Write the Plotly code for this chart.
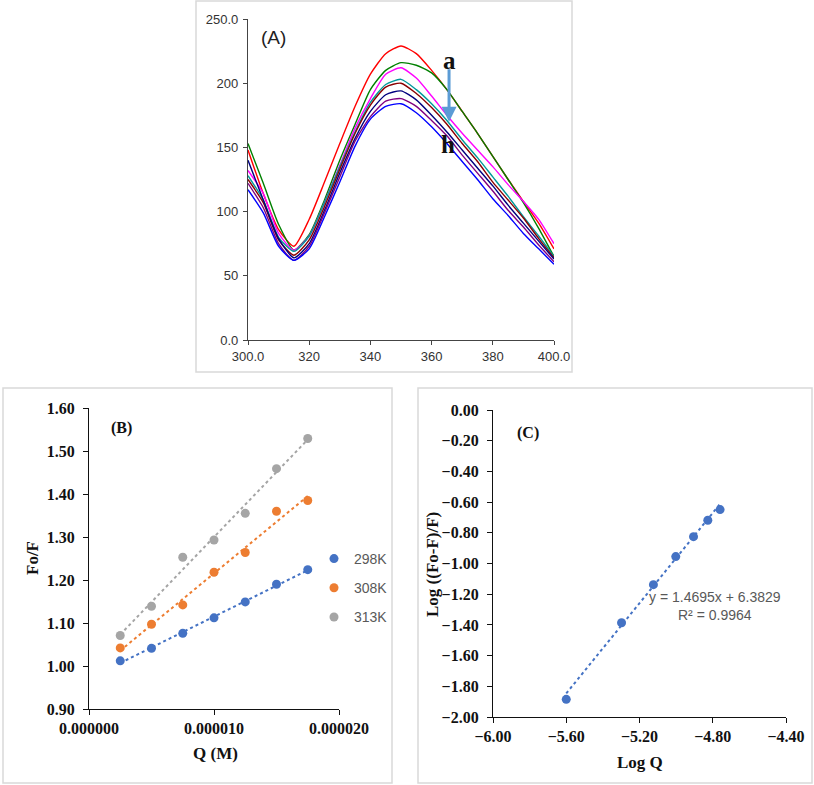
import numpy as np
import plotly.graph_objects as go

W, H = 814, 785
def px(x): return x / W
def py(y): return 1 - y / H

# ---------------- Panel A data ----------------
wavelength = [300, 305, 310, 315, 320, 325, 330, 335, 340, 345, 350, 355, 360, 365, 370, 375, 380, 385, 390, 395, 400]
curve_red     = [148, 114, 86, 73, 94, 123, 153, 182, 207, 223, 229, 223, 210, 195, 178, 161, 143, 125, 108, 91, 71]
curve_green   = [153, 122, 90, 70, 82, 109, 140, 168, 195, 210, 216, 214, 208, 195, 178, 161, 143, 125, 107, 87, 65]
curve_magenta = [132, 114, 83, 70, 81, 107, 136, 165, 188, 207, 212, 204, 190, 175, 161, 148, 135, 121, 108, 94, 75]
curve_teal    = [128, 109, 80, 69, 81, 107, 135, 162, 185, 199, 203, 195, 184, 171, 156, 142, 127, 112, 96, 81, 65]
curve_brown   = [125, 107, 78, 66, 78, 104, 133, 161, 183, 197, 200, 192, 181, 168, 153, 139, 123, 109, 95, 79, 64]
curve_navy    = [140, 109, 79, 64, 75, 101, 130, 157, 178, 191, 194, 187, 175, 162, 148, 134, 120, 105, 91, 77, 63]
curve_purple  = [122, 103, 75, 62, 73, 99, 127, 155, 174, 186, 188, 182, 171, 159, 144, 130, 116, 101, 88, 74, 61]
curve_blue    = [117, 99, 73, 62, 71, 96, 123, 151, 172, 182, 184, 177, 166, 153, 139, 125, 110, 97, 83, 71, 59]
curves_A = [curve_red, curve_green, curve_magenta, curve_teal, curve_brown, curve_navy, curve_purple, curve_blue]
colors_A = ["#FF0000", "#008000", "#FF00FF", "#009A9A", "#8B0000", "#00007F", "#800080", "#0000FF"]
xticks_A = [300, 320, 340, 360, 380, 400]
xtext_A = ["300.0", "320", "340", "360", "380", "400.0"]
yticks_A = [0, 50, 100, 150, 200, 250]
ytext_A = ["0.0", "50", "100", "150", "200", "250.0"]

# ---------------- Panel B data ----------------
Q = [2.5e-6, 5.0e-6, 7.5e-6, 1.0e-5, 1.25e-5, 1.5e-5, 1.75e-5]
F_298 = [1.012, 1.041, 1.076, 1.112, 1.149, 1.190, 1.224]
F_308 = [1.042, 1.097, 1.142, 1.218, 1.264, 1.360, 1.385]
F_313 = [1.071, 1.139, 1.253, 1.293, 1.355, 1.459, 1.529]
series_B = [("298K", F_298, "#4472C4"), ("308K", F_308, "#ED7D31"), ("313K", F_313, "#A5A5A5")]
xticks_B = [0, 1e-5, 2e-5]
xtext_B = ["0.000000", "0.000010", "0.000020"]

# ---------------- Panel C data ----------------
logQ = [-5.600, -5.298, -5.124, -5.002, -4.905, -4.827, -4.760]
logF = [-1.885, -1.386, -1.138, -0.955, -0.825, -0.718, -0.649]
slope_C, intercept_C, r2_C = 1.4695, 6.3829, 0.9964

fig = go.Figure()

# Panel A curves
for ys, c in zip(curves_A, colors_A):
    fig.add_trace(go.Scatter(x=wavelength, y=ys, mode="lines", line=dict(color=c, width=1.4, shape="spline", smoothing=0.6),
                             xaxis="x", yaxis="y", showlegend=False, hoverinfo="skip"))

# Panel B
for name, ys, c in series_B:
    fit = np.polyfit(Q, ys, 1)
    xs = np.array([Q[0], Q[-1]])
    fig.add_trace(go.Scatter(x=xs, y=np.polyval(fit, xs), mode="lines", line=dict(color=c, width=2, dash="dot"),
                             xaxis="x2", yaxis="y2", showlegend=False, hoverinfo="skip"))
for name, ys, c in series_B:
    fig.add_trace(go.Scatter(x=Q, y=ys, mode="markers", marker=dict(color=c, size=9), name=name,
                             legendgroup=name, xaxis="x2", yaxis="y2", showlegend=True))

# Panel C
xs_c = np.array([logQ[0], logQ[-1]])
fig.add_trace(go.Scatter(x=xs_c, y=slope_C * xs_c + intercept_C, mode="lines",
                         line=dict(color="#4472C4", width=2, dash="dot"),
                         xaxis="x3", yaxis="y3", showlegend=False, hoverinfo="skip"))
fig.add_trace(go.Scatter(x=logQ, y=logF, mode="markers", marker=dict(color="#4472C4", size=9),
                         xaxis="x3", yaxis="y3", showlegend=False))

sans = "Liberation Sans"
serif = "Liberation Serif"
axA = dict(showgrid=False, zeroline=False, showline=True, linecolor="#444", linewidth=1.2, automargin=False,
           ticks="outside", ticklen=4, tickcolor="#444", tickfont=dict(family=sans, size=13, color="#333"))
axS = dict(showgrid=False, zeroline=False, showline=True, linecolor="#111", linewidth=1.3, automargin=False,
           ticks="outside", ticklen=5, tickcolor="#111",
           tickfont=dict(family=serif, size=16, color="#111", weight="bold"))

fig.update_layout(
    width=W, height=H, margin=dict(l=0, r=0, t=0, b=0, autoexpand=False),
    paper_bgcolor="white", plot_bgcolor="white",
    xaxis=dict(axA, domain=[px(248), px(554)], range=[300, 400], tickvals=xticks_A, ticktext=xtext_A, anchor="y"),
    yaxis=dict(axA, domain=[py(340), py(19)], range=[0, 250], tickvals=yticks_A, ticktext=ytext_A, anchor="x",
               ticklabelstandoff=2),
    xaxis2=dict(axS, domain=[px(89), px(339)], range=[0, 2e-5], tickvals=xticks_B, ticktext=xtext_B, anchor="y2"),
    yaxis2=dict(axS, domain=[py(709), py(408)], range=[0.9, 1.6], dtick=0.1, tickformat=".2f", anchor="x2",
                ticklabelstandoff=5),
    xaxis3=dict(axS, domain=[px(493), px(786)], range=[-6.0, -4.4], dtick=0.4, tick0=-6.0, tickformat=".2f", anchor="y3"),
    yaxis3=dict(axS, domain=[py(717), py(410)], range=[-2.0, 0.0], dtick=0.2, tickformat=".2f", anchor="x3",
                ticklabelstandoff=5),
    legend=dict(x=px(314), y=py(543), xanchor="left", yanchor="top", bgcolor="rgba(0,0,0,0)",
                font=dict(family=sans, size=14, color="#595959"), tracegroupgap=8, itemwidth=30),
    showlegend=True,
)

# Frames around panels
for (x0, y0, x1, y1) in [(196, 1, 572, 372), (3, 388, 392, 783), (418, 388, 812, 783)]:
    fig.add_shape(type="rect", xref="paper", yref="paper", x0=px(x0), x1=px(x1), y0=py(y1), y1=py(y0),
                  line=dict(color="#D9D9D9", width=1.5), fillcolor="rgba(0,0,0,0)")

C = dict(xanchor="center", yanchor="middle", showarrow=False)
ann = []
ann.append(dict(C, text="(A)", x=px(273), y=py(38), xref="paper", yref="paper",
                font=dict(family=sans, size=19, color="#222")))
ann.append(dict(C, text="a", x=365.7, y=218, xref="x", yref="y",
                font=dict(family=serif, size=25, color="#111", weight="bold")))
ann.append(dict(C, text="h", x=365.5, y=152, xref="x", yref="y",
                font=dict(family=serif, size=25, color="#111", weight="bold")))
ann.append(dict(text="", x=365.7, y=170, ax=365.7, ay=212, xref="x", yref="y", axref="x", ayref="y",
                showarrow=True, arrowhead=2, arrowsize=1, arrowwidth=3, arrowcolor="#5B9BD5"))
ann.append(dict(C, text="(B)", x=px(122), y=py(428), xref="paper", yref="paper",
                font=dict(family=serif, size=16, color="#111", weight="bold")))
ann.append(dict(C, text="Fo/F", x=px(32), y=py(558), xref="paper", yref="paper", textangle=-90,
                font=dict(family=serif, size=17, color="#111", weight="bold")))
ann.append(dict(C, text="Q (M)", x=px(215), y=py(753), xref="paper", yref="paper",
                font=dict(family=serif, size=17, color="#111", weight="bold")))
ann.append(dict(C, text="(C)", x=px(528), y=py(433), xref="paper", yref="paper",
                font=dict(family=serif, size=16, color="#111", weight="bold")))
ann.append(dict(C, text="Log ((Fo-F)/F)", x=px(432), y=py(564), xref="paper", yref="paper", textangle=-90,
                font=dict(family=serif, size=17, color="#111", weight="bold")))
ann.append(dict(C, text="Log Q", x=px(640), y=py(762), xref="paper", yref="paper",
                font=dict(family=serif, size=17, color="#111", weight="bold")))
ann.append(dict(C, text=f"y = {slope_C}x + {intercept_C}<br>R² = {r2_C}", x=px(715), y=py(606), xref="paper", yref="paper",
                align="center", font=dict(family=sans, size=14, color="#595959")))
fig.update_layout(annotations=ann)

fig.write_html("out.html", config={"displayModeBar": False},
               post_script="document.body.style.margin='0';document.body.style.overflow='hidden';")
